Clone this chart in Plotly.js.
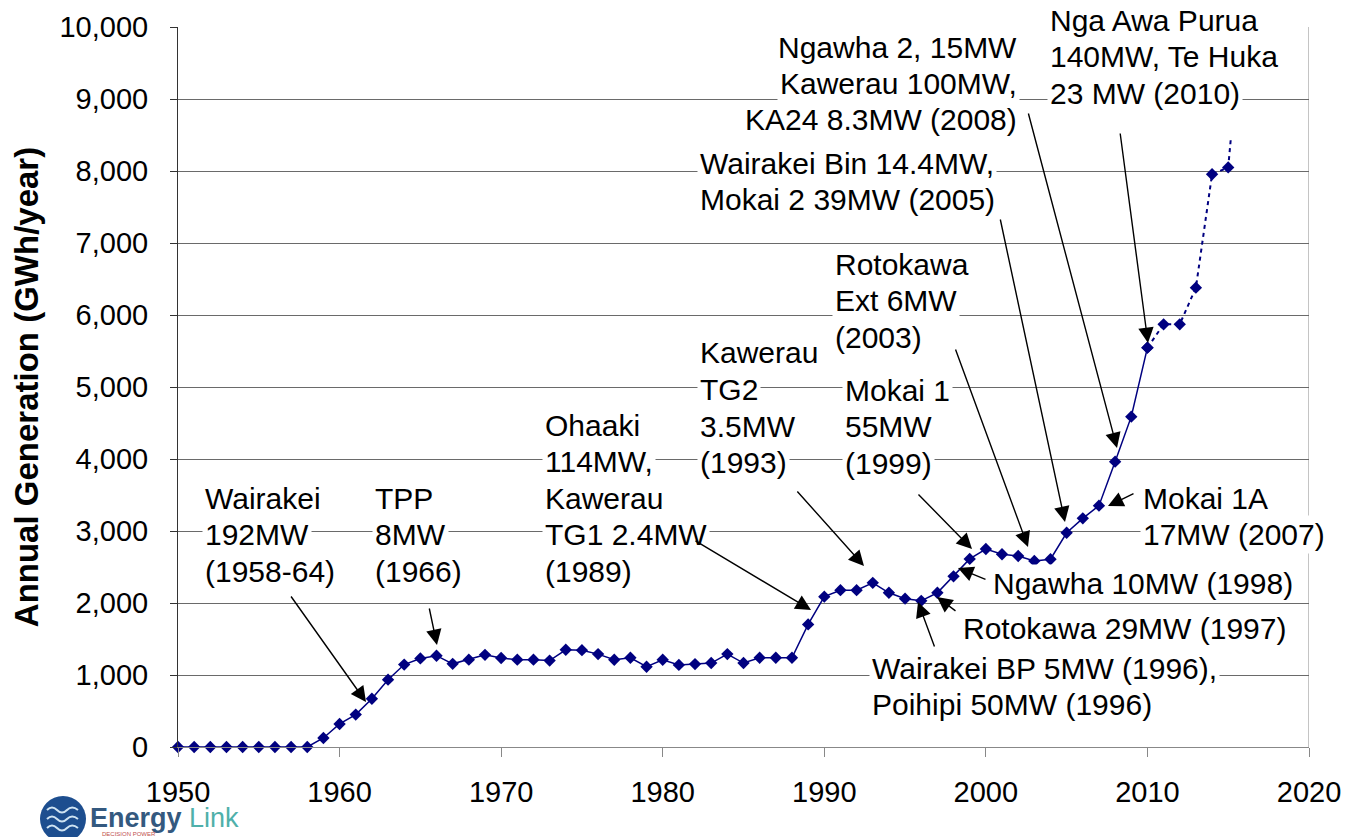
<!DOCTYPE html>
<html>
<head>
<meta charset="utf-8">
<script src="https://cdn.plot.ly/plotly-3.0.1.min.js"></script>
<style>html,body{margin:0;padding:0;background:#fff;}#chart{width:1347px;height:837px;}</style>
</head>
<body>
<div id="chart"></div>
<script>
// ---------- DATA ----------
const years = [1950,1951,1952,1953,1954,1955,1956,1957,1958,1959,
               1960,1961,1962,1963,1964,1965,1966,1967,1968,1969,
               1970,1971,1972,1973,1974,1975,1976,1977,1978,1979,
               1980,1981,1982,1983,1984,1985,1986,1987,1988,1989,
               1990,1991,1992,1993,1994,1995,1996,1997,1998,1999,
               2000,2001,2002,2003,2004,2005,2006,2007,2008,2009,
               2010,2011,2012,2013,2014,2015];
const generation = [0,0,0,0,0,0,0,0,0,125,
                    320,450,670,935,1145,1230,1268,1155,1213,1280,
                    1236,1213,1213,1200,1350,1345,1290,1212,1240,1115,
                    1212,1140,1152,1166,1290,1166,1240,1240,1240,1703,
                    2088,2178,2178,2280,2142,2060,2030,2142,2370,2612,
                    2750,2677,2653,2585,2608,2975,3176,3352,3963,4588,
                    5546,5870,5870,6380,7955,8050];
const lastActualYear = 2010;           // solid up to here, dotted after
const tailYear = 2015.17;              // dotted tail continuing above the last point
const tailValue = 8470;

const xTicks = [1950,1960,1970,1980,1990,2000,2010,2020];

// annotation labels: text lines, anchor pixel, arrow tail -> tip (pixels)
const labels = [
  {lines:['Wairakei','192MW','(1958-64)'], x:205, y:498, align:'left', tail:[290,595], tip:[366,702]},
  {lines:['TPP','8MW','(1966)'], x:375, y:498, align:'left', tail:[429,607], tip:[437,645]},
  {lines:['Ohaaki','114MW,','Kawerau','TG1 2.4MW','(1989)'], x:545, y:425, align:'left', tail:[694,540], tip:[811,610]},
  {lines:['Kawerau','TG2','3.5MW','(1993)'], x:700, y:353, align:'left', tail:[796,490], tip:[864,566]},
  {lines:['Mokai 1','55MW','(1999)'], x:845, y:390, align:'left', tail:[917,493], tip:[972,549]},
  {lines:['Rotokawa','Ext 6MW','(2003)'], x:835, y:264, align:'left', tail:[955,348], tip:[1028,547]},
  {lines:['Wairakei Bin 14.4MW,','Mokai 2 39MW (2005)'], x:700, y:163, align:'left', tail:[1000,218], tip:[1065,522]},
  {lines:['Ngawha 2, 15MW','Kawerau 100MW,','KA24 8.3MW (2008)'], x:1017, y:47, align:'right', tail:[1028,112], tip:[1117,448]},
  {lines:['Nga Awa Purua','140MW, Te Huka','23 MW (2010)'], x:1050, y:20, align:'left', tail:[1120,132], tip:[1148,343]},
  {lines:['Mokai 1A','17MW (2007)'], x:1143, y:498, align:'left', tail:[1135,493], tip:[1108,506]},
  {lines:['Ngawha 10MW (1998)'], x:993, y:583, align:'left', tail:[987,580], tip:[958,568]},
  {lines:['Rotokawa 29MW (1997)'], x:963, y:628, align:'left', tail:[957,612], tip:[937,597]},
  {lines:['Wairakei BP 5MW (1996),','Poihipi 50MW (1996)'], x:872, y:668, align:'left', tail:[935,648], tip:[918,602]}
];

// ---------- LAYOUT HELPERS ----------
const ML = 178, MT = 27, PW = 1131, PH = 720;
const px = x => (x - ML) / PW;
const py = y => (MT + PH - y) / PH;
const FONT = 'Liberation Sans, Arial, Helvetica, sans-serif';
const NAVY = '#000080';
const LINE_GAP = 36.5;

// ---------- TRACES ----------
const actX = [], actY = [], projX = [], projY = [];
years.forEach((yr, i) => {
  if (yr <= lastActualYear) { actX.push(yr); actY.push(generation[i]); }
  if (yr >= lastActualYear) { projX.push(yr); projY.push(generation[i]); }
});

const traces = [
  {x: actX, y: actY, type:'scatter', mode:'lines+markers', cliponaxis:false,
   line:{color:NAVY, width:1.5}, marker:{symbol:'diamond', size:9.5, color:NAVY}},
  {x: projX.concat([tailYear]), y: projY.concat([tailValue]), type:'scatter', mode:'lines', cliponaxis:false,
   line:{color:NAVY, width:2, dash:'4px,4px'}},
  {x: projX, y: projY, type:'scatter', mode:'markers', cliponaxis:false,
   marker:{symbol:'diamond', size:9.5, color:NAVY}}
];

// ---------- ANNOTATIONS ----------
const annotations = [];
labels.forEach(lb => {
  lb.lines.forEach((t, k) => {
    annotations.push({
      xref:'paper', yref:'paper',
      x: px(lb.align === 'right' ? lb.x + 3 : lb.x - 3),
      y: py(lb.y + k * LINE_GAP),
      xanchor: lb.align === 'right' ? 'right' : 'left', yanchor:'middle',
      text: t, showarrow:false, bgcolor:'white', borderpad:2,
      font:{family:FONT, size:30, color:'#000'}
    });
  });
});
labels.forEach(lb => {
  annotations.push({
    xref:'paper', yref:'paper', x: px(lb.tip[0]), y: py(lb.tip[1]),
    axref:'pixel', ayref:'pixel', ax: lb.tail[0] - lb.tip[0], ay: lb.tail[1] - lb.tip[1],
    text:'', showarrow:true, arrowhead:2, arrowsize:2.2, arrowwidth:1.4,
    arrowcolor:'#000', standoff:0, startstandoff:0
  });
});
// logo text
annotations.push({xref:'paper', yref:'paper', x:px(88), y:py(818), xanchor:'left', yanchor:'middle',
  showarrow:false, text:'<b>Energy</b> <span style="color:#4fb0aa">Link</span>',
  font:{family:FONT, size:27, color:'#34597f'}});
annotations.push({xref:'paper', yref:'paper', x:px(100), y:py(834), xanchor:'left', yanchor:'middle',
  showarrow:false, text:'DECISION POWER', font:{family:FONT, size:6, color:'#c0504d'}});

// ---------- SHAPES ----------
const shapes = [
  {type:'line', xref:'x', yref:'paper', x0:2020, x1:2020, y0:0, y1:1, line:{color:'#888', width:1}, layer:'below'},
  {type:'circle', xref:'paper', yref:'paper', x0:px(40), x1:px(86), y0:py(842), y1:py(796),
   fillcolor:'#1d4e8f', line:{width:0}}
];
[-9, 0, 9].forEach(d => {
  const yy = 819 + d;
  shapes.push({type:'path', xref:'paper', yref:'paper',
    path:`M ${px(47)},${py(yy)} Q ${px(52)},${py(yy-5)} ${px(57)},${py(yy)} Q ${px(62)},${py(yy+5)} ${px(67)},${py(yy)} Q ${px(72)},${py(yy-5)} ${px(78)},${py(yy)}`,
    line:{color:'#cfe3f2', width:2}});
});

const layout = {
  width:1347, height:837,
  margin:{l:ML, r:1347-ML-PW, t:MT, b:837-MT-PH, pad:0},
  paper_bgcolor:'#fff', plot_bgcolor:'#fff',
  showlegend:false,
  font:{family:FONT, color:'#000'},
  xaxis:{range:[1950,2020], tickvals:xTicks, ticks:'outside', ticklen:9, tickcolor:'#888', tickwidth:1,
         showline:true, linecolor:'#888', linewidth:1, showgrid:false, zeroline:false,
         tickfont:{family:FONT, size:29, color:'#000'}, ticklabelstandoff:10, automargin:false},
  yaxis:{range:[0,10000], dtick:1000, tick0:0, tickformat:',d', ticks:'outside', ticklen:7, tickcolor:'#333',
         showline:true, linecolor:'#333', linewidth:1, showgrid:true, gridcolor:'#6a6a6a', gridwidth:1, zeroline:false,
         tickfont:{family:FONT, size:29, color:'#000'}, ticklabelstandoff:16, automargin:false,
         title:{text:'<b>Annual Generation (GWh/year)</b>', font:{family:FONT, size:33, color:'#000'}, standoff:10}},
  annotations: annotations,
  shapes: shapes
};

Plotly.newPlot('chart', traces, layout, {displayModeBar:false, staticPlot:true});
</script>
</body>
</html>
